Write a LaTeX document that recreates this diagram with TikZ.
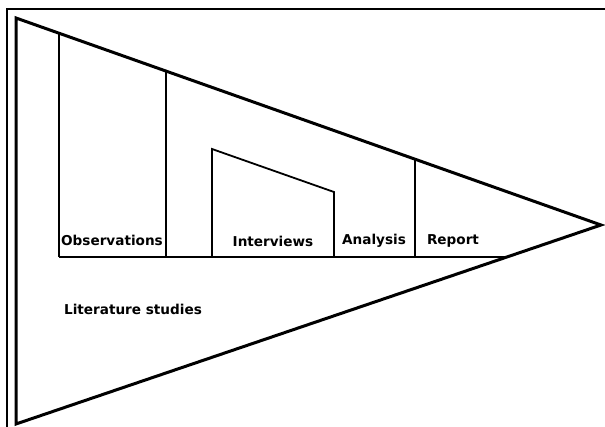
\documentclass[tikz,border=0pt]{standalone}
\usepackage{fontspec}
\setmainfont{DejaVu Sans}
\begin{document}
\begin{tikzpicture}[x=1pt,y=-1pt,
  outline/.style={line width=3pt,line join=miter},
  divider/.style={line width=1.8pt},
  frameline/.style={line width=2.4pt},
  phase/.style={font=\bfseries\fontsize{13.6}{15}\selectfont,inner sep=0pt}]
\useasboundingbox (0,0) rectangle (605,427);
% frame edges
\draw[frameline] (7,427) -- (7,9) -- (605,9);
% main wedge
\coordinate (tl) at (16,18);
\coordinate (bl) at (16,424);
\coordinate (tip) at (601,225);
\draw[outline] (tl) -- (tip) -- (bl) -- cycle;
% baseline of the phases
\coordinate (b0) at (59,257);
\coordinate (b1) at (507,257);
\draw[divider] (b0) -- (b1);
% phase dividers
\draw[divider] (59,33) -- (b0);
\draw[divider] (166,71) -- (166,257);
\draw[divider] (212,257) -- (212,149) -- (334,192) -- (334,257);
\draw[divider] (415,159) -- (415,257);
% labels
\node[phase] (obs) at (112,240) {Observations};
\node[phase] (int) at (273,241) {Interviews};
\node[phase] (ana) at (374,241) {Analysis};
\node[phase] (rep) at (453,241) {Report};
\node[phase] (lit) at (133,309) {Literature studies};
\end{tikzpicture}
\end{document}
